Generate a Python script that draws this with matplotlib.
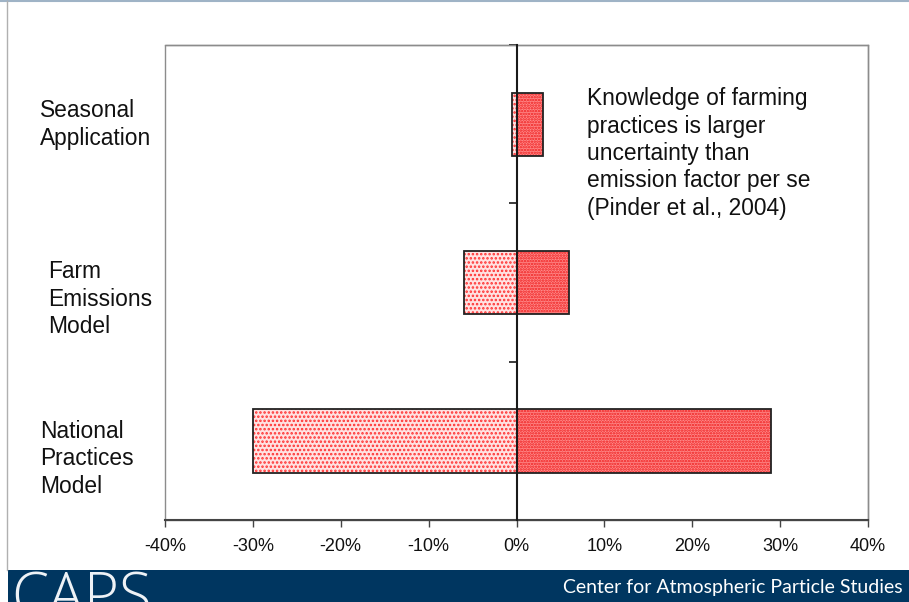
import matplotlib
matplotlib.use("Agg")
import matplotlib.pyplot as plt
from matplotlib.patches import Rectangle
from matplotlib.lines import Line2D
import matplotlib.transforms as mtransforms

plt.rcParams['font.family'] = ['Liberation Sans', 'DejaVu Sans']
plt.rcParams['hatch.linewidth'] = 1.2

# Data: uncertainty range (%) of ammonia emission estimates
categories = ["National\nPractices\nModel", "Farm\nEmissions\nModel", "Seasonal\nApplication"]
low_values = [-30.0, -6.0, -0.5]
high_values = [29.0, 6.0, 3.0]
x_ticks = [-40, -30, -20, -10, 0, 10, 20, 30, 40]
tick_labels = [f"{t}%" for t in x_ticks]
note = ("Knowledge of farming\npractices is larger\nuncertainty than\n"
        "emission factor per se\n(Pinder et al., 2004)")

W, H = 909, 602
fig = plt.figure(figsize=(W / 100, H / 100), dpi=100)
fig.patch.set_facecolor("white")

ax = fig.add_axes([165 / W, 1 - 520 / H, (868 - 165) / W, (520 - 45) / H])
ax.set_xlim(-40, 40)
ax.set_ylim(-0.5, 2.5)

ypos = list(range(len(categories)))
bar_h = 0.40

# negative side: light stipple, positive side: dense red stipple
ax.barh(ypos, low_values, height=bar_h, color="#ffe2e2", edgecolor="#ff3030",
        hatch="....", linewidth=0, zorder=2)
ax.barh(ypos, high_values, height=bar_h, color="#ff8a8a", edgecolor="#ee1c1c",
        hatch="......", linewidth=0, zorder=2)
ax.barh(ypos, low_values, height=bar_h, fill=False, edgecolor="#222222",
        linewidth=1.3, zorder=3)
ax.barh(ypos, high_values, height=bar_h, fill=False, edgecolor="#222222",
        linewidth=1.3, zorder=3)

# gray frame around plot area
for side in ["top", "right"]:
    ax.spines[side].set_color("#8c8c8c")
    ax.spines[side].set_linewidth(1.0)
ax.add_patch(Rectangle((0, 0), 1, 1, transform=ax.transAxes, fill=False,
                       edgecolor="#8c8c8c", linewidth=1.0, zorder=1, clip_on=False))

# vertical axis sits at zero
ax.spines["left"].set_position(("data", 0))
ax.spines["left"].set_color("#1a1a1a")
ax.spines["left"].set_linewidth(1.5)
ax.spines["left"].set_zorder(4)
ax.set_yticks([-0.5, 0.5, 1.5, 2.5])
ax.set_yticklabels([])
ax.tick_params(axis="y", direction="out", length=6, width=1.2, color="#1a1a1a")

ax.spines["bottom"].set_color("#444444")
ax.spines["bottom"].set_linewidth(1.5)
ax.set_xticks(x_ticks)
ax.set_xticklabels(tick_labels, fontsize=13, color="#111111")
ax.tick_params(axis="x", direction="out", length=5, width=1.0, color="#444444", pad=8)

# category labels at the far left (small downward nudge in points)
blend = mtransforms.blended_transform_factory(fig.transFigure, ax.transData)
label_x = [40, 48, 40]
label_dy = [-13, -12, -0.2]
for y, lab, lx, dy in zip(ypos, categories, label_x, label_dy):
    tr = blend + mtransforms.ScaledTranslation(0, dy / 72, fig.dpi_scale_trans)
    fig.text(lx / W, y, lab, transform=tr, fontsize=16.4, va="center", ha="left",
             color="#111111", linespacing=1.25)

fig.text(587 / W, 1 - 87 / H, note, fontsize=16.4, va="top", ha="left",
         color="#111111", linespacing=1.25)

# slide frame lines
fig.add_artist(Line2D([0, 1], [1 - 1 / H, 1 - 1 / H], transform=fig.transFigure,
                      color="#9fb3c6", linewidth=1.5))
fig.add_artist(Line2D([7 / W, 7 / W], [1 - 1 / H, 32 / H], transform=fig.transFigure,
                      color="#b0b0b0", linewidth=1.0))

# footer banner
fig.add_artist(Rectangle((8 / W, 0), 1 - 8 / W, 32 / H, transform=fig.transFigure,
                         facecolor="#003660", edgecolor="none"))
fig.text(11 / W, 1 - 570 / H, "CAPS", fontsize=43, family=["Open Sans", "DejaVu Sans"],
         fontweight="light", color="#eef2f6", va="top", ha="left")
fig.text(903 / W, 14.5 / H, "Center for Atmospheric Particle Studies", fontsize=14,
         family=["Lato", "DejaVu Sans"], color="white", va="center", ha="right")

fig.savefig("out.png", dpi=100)
